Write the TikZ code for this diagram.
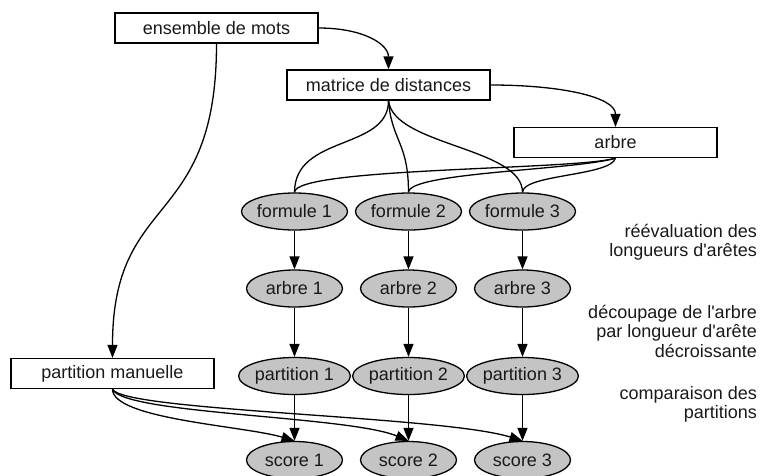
\documentclass[tikz,border=0pt]{standalone}
\usepackage{fontspec}
\setmainfont{Liberation Sans}[Ligatures=TeXOff]
\usetikzlibrary{shapes.geometric,arrows.meta}
\definecolor{ellfill}{RGB}{196,196,196}
\definecolor{txt}{RGB}{25,25,25}
\begin{document}
\begin{tikzpicture}[x=1pt,y=-1pt,
  every node/.style={font=\fontsize{18}{19.5}\selectfont, text=txt},
  boxnode/.style={draw, line width=1.3pt, minimum width=203pt, minimum height=30pt, inner sep=0pt},
  ellnode/.style={ellipse, draw, line width=1.3pt, fill=ellfill, minimum width=96pt, minimum height=37pt, inner sep=0pt},
  labelnode/.style={align=right, anchor=east, inner sep=0pt},
  link/.style={line width=1.3pt},
  arrowlink/.style={line width=1.3pt, -{Triangle[length=13pt,width=10pt]}}
]
\useasboundingbox (0,0) rectangle (762,475);

\node[boxnode] (ens) at (216.5,28) {ensemble de mots};
\node[boxnode] (mat) at (388.5,85) {matrice de distances};
\node[boxnode] (arb) at (615.5,142.5) {arbre};
\node[boxnode] (pm) at (112.5,373.5) {partition manuelle};

\node[ellnode] (f1) at (294.5,211.5) {formule 1};
\node[ellnode] (f2) at (408.5,211.5) {formule 2};
\node[ellnode] (f3) at (522.5,211.5) {formule 3};
\node[ellnode] (a1) at (294.5,288.5) {arbre 1};
\node[ellnode] (a2) at (408.5,288.5) {arbre 2};
\node[ellnode] (a3) at (522.5,288.5) {arbre 3};
\node[ellnode] (p1) at (294.5,376) {partition 1};
\node[ellnode] (p2) at (408.5,376) {partition 2};
\node[ellnode] (p3) at (522.5,376) {partition 3};
\node[ellnode] (s1) at (294.5,460) {score 1};
\node[ellnode] (s2) at (408.5,460) {score 2};
\node[ellnode] (s3) at (522.5,460) {score 3};

\node[labelnode] (l1) at (757,242) {réévaluation des\\longueurs d'arêtes};
\node[labelnode] (l2) at (757,331) {découpage de l'arbre\\par longueur d'arête\\décroissante};
\node[labelnode] (l3) at (757,404.5) {comparaison des\\partitions};

% top connectors
\draw[arrowlink] (ens.east) .. controls +(45,0) and +(0,-25) .. (mat.north);
\draw[arrowlink] (ens.south) .. controls +(0,187) and +(0,-168) .. (pm.north);
\draw[arrowlink] (mat.east) .. controls +(70,0) and +(0,-30) .. (arb.north);

% matrice -> formules
\draw[link] (mat.south) .. controls +(0,50) and +(0,-58) .. (f1.north);
\draw[link] (mat.south) .. controls +(3,40) and +(0,-50) .. (f2.north);
\draw[link] (mat.south) .. controls +(5,45) and +(0,-45) .. (f3.north);

% arbre -> formules
\draw[link] (arb.south) .. controls +(-40,12) and +(0,-25) .. (f1.north);
\draw[link] (arb.south) .. controls +(-40,12) and +(0,-20) .. (f2.north);
\draw[link] (arb.south) .. controls +(-5,18) and +(0,-18) .. (f3.north);

% columns
\foreach \i in {1,2,3} {
  \draw[arrowlink] (f\i.south) -- (a\i.north);
  \draw[arrowlink] (a\i.south) -- (p\i.north);
  \draw[arrowlink] (p\i.south) -- (s\i.north);
}

% partition manuelle -> scores
\draw[arrowlink] (pm.south) .. controls +(0,30) and +(-50,-15) .. (s1.north);
\draw[arrowlink] (pm.south) .. controls +(10,25) and +(-60,-25) .. (s2.north);
\draw[arrowlink] (pm.south) .. controls +(10,22) and +(-80,-25) .. (s3.north);
\end{tikzpicture}
\end{document}
